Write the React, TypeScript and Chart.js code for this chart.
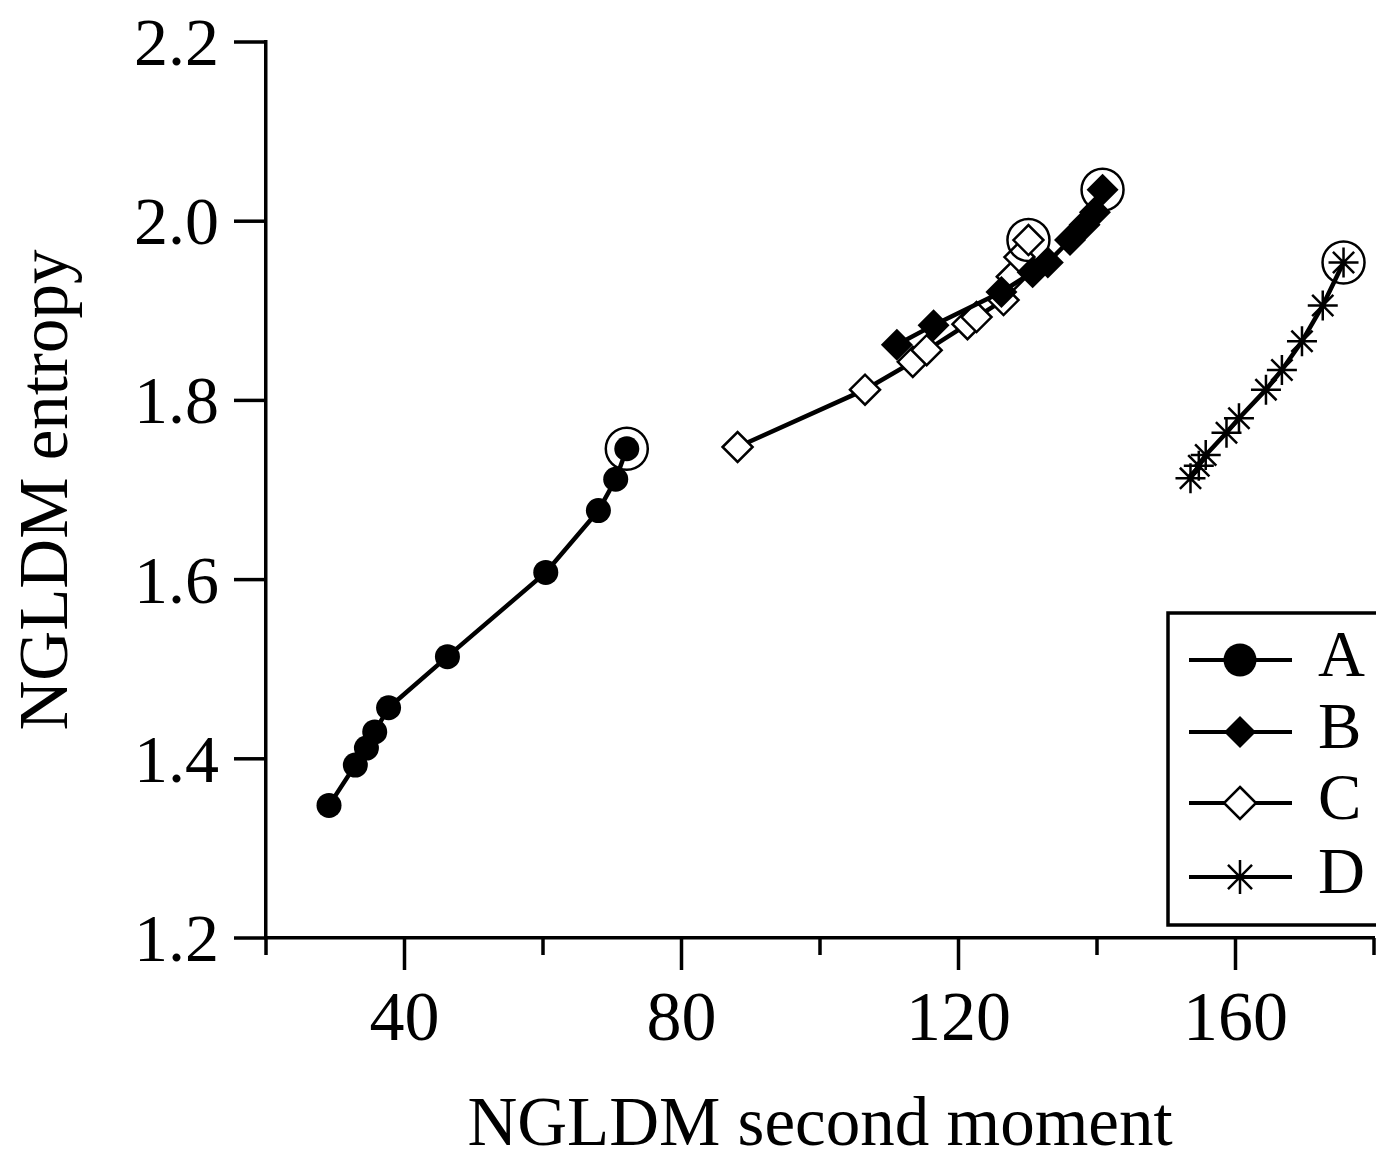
import React, { useEffect, useRef } from "react";
import { Chart, registerables } from "chart.js";

Chart.register(...registerables);

// ---------- data ----------
const seriesNames = ["A", "B", "C", "D"];

const aX = [29.1, 32.9, 34.5, 35.7, 37.7, 46.2, 60.4, 68.0, 70.5, 72.1];
const aY = [1.348, 1.393, 1.412, 1.43, 1.457, 1.514, 1.608, 1.677, 1.712, 1.746];

const bX = [111.1, 116.4, 126.2, 130.7, 132.9, 136.1, 138.2, 139.7, 140.8];
const bY = [1.862, 1.884, 1.921, 1.943, 1.954, 1.979, 1.996, 2.01, 2.035];

const cX = [88.1, 106.5, 113.4, 115.4, 121.3, 122.6, 126.5, 127.7, 128.8, 130.1];
const cY = [1.748, 1.812, 1.843, 1.856, 1.885, 1.893, 1.912, 1.938, 1.96, 1.979];

const dX = [153.5, 154.7, 155.7, 158.7, 160.5, 164.4, 166.7, 169.6, 172.6, 175.6];
const dY = [1.713, 1.727, 1.739, 1.764, 1.78, 1.812, 1.834, 1.866, 1.906, 1.954];

const highlightX = [72.1, 140.8, 130.1, 175.6];
const highlightY = [1.746, 2.035, 1.979, 1.954];

const xMajorTicks = [40, 80, 120, 160];
const xMajorLabels = ["40", "80", "120", "160"];
const xMinorTicks = [20, 60, 100, 140, 180];
const yTicks = [1.2, 1.4, 1.6, 1.8, 2.0, 2.2];
const yTickLabels = ["1.2", "1.4", "1.6", "1.8", "2.0", "2.2"];

const xTitle = "NGLDM second moment";
const yTitle = "NGLDM entropy";

const FONT = '"Liberation Serif", "Times New Roman", Times, serif';

function toPoints(xs: number[], ys: number[]) {
  return xs.map((x, i) => ({ x, y: ys[i] }));
}

function drawMarker(ctx: CanvasRenderingContext2D, kind: number, x: number, y: number) {
  ctx.save();
  ctx.fillStyle = "#000";
  ctx.strokeStyle = "#000";
  if (kind === 0) {
    ctx.beginPath();
    ctx.arc(x, y, 16.5, 0, Math.PI * 2);
    ctx.fill();
  } else if (kind === 1 || kind === 2) {
    const r = 16;
    ctx.beginPath();
    ctx.moveTo(x, y - r);
    ctx.lineTo(x + r, y);
    ctx.lineTo(x, y + r);
    ctx.lineTo(x - r, y);
    ctx.closePath();
    if (kind === 1) {
      ctx.fill();
    } else {
      ctx.fillStyle = "#fff";
      ctx.fill();
      ctx.lineWidth = 2.5;
      ctx.stroke();
    }
  } else {
    const r = 17;
    ctx.lineWidth = 2.5;
    ctx.beginPath();
    ctx.moveTo(x, y - r);
    ctx.lineTo(x, y + r);
    const d = r * Math.SQRT1_2;
    ctx.moveTo(x - d, y - d);
    ctx.lineTo(x + d, y + d);
    ctx.moveTo(x + d, y - d);
    ctx.lineTo(x - d, y + d);
    ctx.stroke();
  }
  ctx.restore();
}

const overlayPlugin = {
  id: "overlay",
  afterDraw(chart: any) {
    const ctx: CanvasRenderingContext2D = chart.ctx;
    const xs = chart.scales.x;
    const ys = chart.scales.y;
    const { left, bottom } = chart.chartArea;
    ctx.save();
    ctx.strokeStyle = "#000";
    ctx.fillStyle = "#000";
    ctx.lineWidth = 3.5;
    ctx.lineCap = "butt";

    // y ticks + labels
    ctx.font = `68px ${FONT}`;
    ctx.textAlign = "right";
    ctx.textBaseline = "alphabetic";
    yTicks.forEach((v, i) => {
      const py = ys.getPixelForValue(v);
      ctx.beginPath();
      ctx.moveTo(left - 32, py);
      ctx.lineTo(left, py);
      ctx.stroke();
      ctx.fillText(yTickLabels[i], 219, py + 23);
    });

    // x ticks + labels
    ctx.font = `70px ${FONT}`;
    ctx.textAlign = "center";
    xMajorTicks.forEach((v, i) => {
      const px = xs.getPixelForValue(v);
      ctx.beginPath();
      ctx.moveTo(px, bottom);
      ctx.lineTo(px, bottom + 32);
      ctx.stroke();
      ctx.fillText(xMajorLabels[i], px, 1040);
    });
    xMinorTicks.forEach((v) => {
      const px = xs.getPixelForValue(v);
      ctx.beginPath();
      ctx.moveTo(px, bottom);
      ctx.lineTo(px, bottom + 17);
      ctx.stroke();
    });

    // axis titles
    ctx.font = `69px ${FONT}`;
    ctx.textAlign = "center";
    ctx.fillText(xTitle, (chart.chartArea.left + chart.chartArea.right) / 2, 1145);
    ctx.save();
    ctx.translate(67, (chart.chartArea.top + chart.chartArea.bottom) / 2);
    ctx.rotate(-Math.PI / 2);
    ctx.fillText(yTitle, 0, 0);
    ctx.restore();

    // legend
    ctx.lineWidth = 3.5;
    ctx.strokeRect(1168, 613, 230, 312);
    const rows = [660, 732, 803, 877];
    ctx.font = `65px ${FONT}`;
    ctx.textAlign = "left";
    rows.forEach((ry, i) => {
      ctx.lineWidth = 4;
      ctx.beginPath();
      ctx.moveTo(1189, ry);
      ctx.lineTo(1292, ry);
      ctx.stroke();
      drawMarker(ctx, i, 1240, ry);
      ctx.fillText(seriesNames[i], 1318, ry + 16);
    });
    ctx.restore();
  },
};

export default function App() {
  const ref = useRef<HTMLCanvasElement | null>(null);

  useEffect(() => {
    if (!ref.current) return;
    const lineBase = {
      showLine: true,
      borderColor: "#000",
      borderWidth: 4.5,
      pointBorderColor: "#000",
      clip: false as any,
    };
    const chart = new Chart(ref.current, {
      type: "scatter",
      data: {
        datasets: [
          {
            label: "highlight",
            data: toPoints(highlightX, highlightY),
            showLine: false,
            pointStyle: "circle",
            pointRadius: 21,
            pointBackgroundColor: "rgba(0,0,0,0)",
            pointBorderColor: "#000",
            pointBorderWidth: 2.5,
            clip: false as any,
          },
          {
            ...lineBase,
            label: seriesNames[0],
            data: toPoints(aX, aY),
            pointStyle: "circle",
            pointRadius: 12.5,
            pointBackgroundColor: "#000",
            pointBorderWidth: 0,
          },
          {
            ...lineBase,
            label: seriesNames[1],
            data: toPoints(bX, bY),
            pointStyle: "rectRot",
            pointRadius: 16,
            pointBackgroundColor: "#000",
            pointBorderWidth: 0,
          },
          {
            ...lineBase,
            label: seriesNames[2],
            data: toPoints(cX, cY),
            pointStyle: "rectRot",
            pointRadius: 15,
            pointBackgroundColor: "#fff",
            pointBorderWidth: 2.5,
          },
          {
            ...lineBase,
            label: seriesNames[3],
            data: toPoints(dX, dY),
            pointStyle: "star",
            pointRadius: 15,
            pointBorderWidth: 2.5,
          },
        ],
      },
      options: {
        responsive: false,
        animation: false,
        layout: { autoPadding: false, padding: { left: 266, top: 42, right: 2, bottom: 214 } },
        plugins: {
          legend: { display: false },
          tooltip: { enabled: false },
        },
        scales: {
          x: {
            type: "linear",
            min: 20,
            max: 180,
            grid: { display: false, drawTicks: false },
            border: { display: true, color: "#000", width: 3.5 },
            ticks: { display: false, stepSize: 20 },
          },
          y: {
            type: "linear",
            min: 1.2,
            max: 2.2,
            grid: { display: false, drawTicks: false },
            border: { display: true, color: "#000", width: 3.5 },
            ticks: { display: false, stepSize: 0.2 },
          },
        },
      },
      plugins: [overlayPlugin],
    });
    return () => chart.destroy();
  }, []);

  return (
    <div style={{ position: "absolute", left: 0, top: 0, width: 1376, height: 1152, background: "#fff" }}>
      <canvas ref={ref} width={1376} height={1152} style={{ width: 1376, height: 1152 }} />
    </div>
  );
}
